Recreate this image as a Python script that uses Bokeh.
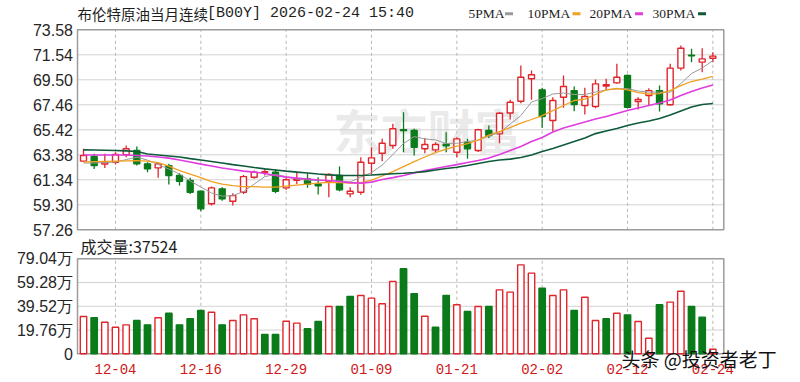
from bokeh.plotting import figure
from bokeh.models import Range1d, ColumnDataSource
from bokeh.embed import file_html
from bokeh.resources import INLINE
from bokeh.core.properties import value

# ---------------- data ----------------
dates = ["12-01", "12-02", "12-03", "12-04", "12-05", "12-08", "12-09", "12-10", "12-11", "12-12",
         "12-15", "12-16", "12-17", "12-18", "12-19", "12-22", "12-23", "12-24", "12-26", "12-29",
         "12-30", "12-31", "01-02", "01-05", "01-06", "01-07", "01-08", "01-09", "01-12", "01-13",
         "01-14", "01-15", "01-16", "01-19", "01-20", "01-21", "01-22", "01-23", "01-26", "01-27",
         "01-28", "01-29", "01-30", "02-02", "02-03", "02-04", "02-05", "02-06", "02-09", "02-10",
         "02-11", "02-12", "02-13", "02-16", "02-17", "02-18", "02-19", "02-20", "02-23", "02-24"]

open_ = [62.86, 63.24, 62.62, 62.77, 63.38, 63.73, 62.64, 62.31, 62.50, 61.69,
         61.28, 60.40, 59.38, 60.60, 59.59, 60.32, 61.55, 61.95, 61.96, 60.68,
         61.30, 61.40, 61.00, 61.22, 61.69, 60.19, 60.32, 62.69, 63.51, 64.14,
         65.42, 65.36, 63.87, 63.78, 64.25, 63.59, 64.40, 63.73, 65.36, 65.09,
         66.79, 67.75, 69.58, 68.68, 66.18, 68.08, 68.62, 67.40, 67.32, 69.00,
         69.25, 69.85, 67.73, 68.22, 68.62, 67.46, 70.45, 71.50, 70.94, 71.26]
high = [63.87, 63.46, 63.46, 63.59, 64.14, 64.05, 62.77, 62.72, 62.64, 61.87,
        61.50, 60.46, 60.79, 60.73, 60.24, 61.74, 62.10, 62.23, 62.23, 61.55,
        61.96, 61.87, 61.55, 61.87, 62.42, 60.73, 63.18, 64.00, 64.68, 65.91,
        66.85, 65.50, 64.76, 64.40, 65.22, 64.81, 64.68, 65.50, 65.77, 66.85,
        67.87, 70.67, 70.26, 68.85, 68.08, 69.85, 68.95, 68.85, 69.52, 69.58,
        70.80, 69.91, 68.08, 68.81, 69.03, 70.80, 72.30, 72.03, 72.08, 71.75]
low = [62.80, 62.23, 62.31, 62.58, 63.18, 62.50, 61.96, 61.50, 60.95, 60.87,
       60.19, 58.77, 59.24, 59.64, 59.24, 60.19, 61.42, 61.69, 60.24, 60.52,
       61.00, 60.70, 60.15, 59.91, 60.40, 59.91, 60.13, 61.82, 62.85, 63.87,
       63.59, 63.32, 63.51, 63.59, 63.59, 63.18, 63.05, 63.60, 64.76, 64.32,
       66.26, 67.59, 67.87, 65.58, 65.30, 67.21, 66.93, 66.67, 67.18, 68.62,
       69.17, 67.18, 67.07, 67.40, 66.91, 67.40, 70.26, 70.94, 70.12, 70.94]
close = [63.32, 62.50, 62.75, 63.40, 63.87, 62.64, 62.23, 62.64, 61.69, 61.22,
         60.32, 58.97, 60.68, 59.78, 60.05, 61.60, 61.96, 62.00, 60.40, 61.34,
         61.38, 60.98, 60.85, 61.77, 60.52, 60.40, 62.77, 63.13, 64.32, 65.50,
         65.35, 64.00, 64.22, 64.22, 64.12, 64.68, 63.87, 65.42, 64.95, 66.77,
         67.67, 69.71, 69.91, 66.50, 67.81, 68.95, 67.48, 68.14, 69.17, 69.10,
         69.71, 67.26, 67.89, 68.62, 67.54, 70.45, 72.08, 71.45, 71.21, 71.43]

ma5 = [62.71, 62.71, 62.75, 62.79, 62.99, 63.18, 62.95, 62.58, 62.22, 61.81,
       61.24, 60.75, 60.26, 60.01, 60.05, 60.38, 60.99, 61.60, 61.77, 61.60,
       61.40, 61.32, 61.28, 61.28, 61.24, 61.16, 61.56, 61.93, 62.54, 63.40,
       64.30, 64.87, 64.67, 64.60, 64.30, 64.32, 64.46, 64.58, 64.91, 65.20,
       65.89, 66.58, 67.69, 67.97, 68.34, 68.42, 68.30, 68.30, 68.50, 68.67,
       68.76, 68.79, 68.58, 68.50, 68.49, 68.49, 69.20, 70.01, 70.46, 71.07]
ma10 = [62.79, 62.83, 62.85, 62.87, 62.89, 62.91, 62.87, 62.75, 62.46, 62.09,
        61.81, 61.52, 61.20, 60.99, 60.87, 60.79, 60.79, 60.75, 60.75, 60.83,
        60.91, 60.99, 61.07, 61.14, 61.11, 61.07, 61.11, 61.32, 61.65, 62.01,
        62.42, 62.83, 63.20, 63.56, 63.85, 64.09, 64.30, 64.58, 64.99, 65.28,
        65.60, 65.97, 66.26, 66.58, 66.99, 67.40, 67.81, 67.93, 68.30, 68.67,
        68.79, 68.67, 68.46, 68.34, 68.38, 68.62, 69.03, 69.36, 69.56, 69.77]
ma20 = [63.36, 63.36, 63.36, 63.36, 63.36, 63.32, 63.28, 63.20, 63.11, 62.95,
        62.79, 62.62, 62.46, 62.30, 62.18, 62.05, 61.97, 61.85, 61.69, 61.56,
        61.48, 61.40, 61.32, 61.28, 61.20, 61.11, 61.07, 61.15, 61.36, 61.52,
        61.69, 61.89, 62.09, 62.26, 62.42, 62.58, 62.75, 62.91, 63.11, 63.40,
        63.73, 64.05, 64.46, 64.79, 65.24, 65.56, 65.81, 66.05, 66.30, 66.50,
        66.75, 66.99, 67.20, 67.40, 67.60, 67.85, 68.22, 68.54, 68.83, 69.07]
ma30 = [63.78, 63.77, 63.75, 63.73, 63.70, 63.65, 63.44, 63.36, 63.28, 63.20,
        63.07, 62.95, 62.83, 62.71, 62.58, 62.46, 62.34, 62.23, 62.14, 62.05,
        61.97, 61.89, 61.81, 61.74, 61.70, 61.69, 61.69, 61.73, 61.78, 61.83,
        61.87, 61.93, 62.01, 62.14, 62.26, 62.36, 62.50, 62.67, 62.83, 62.95,
        63.03, 63.16, 63.36, 63.65, 63.89, 64.18, 64.46, 64.75, 65.11, 65.32,
        65.52, 65.77, 65.97, 66.14, 66.34, 66.62, 66.95, 67.28, 67.48, 67.56]

# volume, in 万 (10k) lots
volume_wan = [31.0, 30.0, 26.3, 22.1, 24.1, 27.7, 24.1, 30.0, 33.8, 24.1,
              29.1, 36.0, 34.6, 24.1, 27.7, 32.4, 29.1, 16.1, 16.1, 27.1,
              25.5, 20.8, 26.9, 39.4, 39.4, 47.7, 48.5, 46.3, 41.6, 60.2,
              70.7, 49.9, 31.3, 22.1, 48.5, 40.8, 35.2, 39.4, 39.4, 53.2,
              51.3, 74.0, 67.1, 54.6, 48.5, 53.2, 36.0, 47.1, 27.7, 29.1,
              33.8, 32.4, 26.9, 13.0, 40.8, 43.0, 52.1, 39.4, 30.5, 3.7524]
# volume bar direction as drawn (1 = red / up, 0 = green / down)
volume_up = [1, 0, 1, 1, 1, 0, 0, 1, 0, 0,
             0, 0, 1, 0, 1, 1, 1, 0, 0, 1,
             1, 0, 0, 1, 0, 0, 1, 1, 1, 1,
             0, 0, 1, 0, 0, 1, 0, 1, 0, 1,
             1, 1, 1, 0, 1, 1, 0, 1, 1, 0,
             1, 0, 1, 1, 0, 1, 1, 0, 0, 1]
last_volume = 37524

price_ticks = [57.26, 59.30, 61.34, 63.38, 65.42, 67.46, 69.50, 71.54, 73.58]
vol_ticks = [0, 19.76, 39.52, 59.28, 79.04]
vol_tick_labels = ["0", "19.76万", "39.52万", "59.28万", "79.04万"]
date_tick_labels = ["12-04", "12-16", "12-29", "01-09", "01-21", "02-02", "02-12", "02-24"]
ma_names = ["5PMA", "10PMA", "20PMA", "30PMA"]
title_cn = "布伦特原油当月连续"
title_rest = "[B00Y] 2026-02-24 15:40"

# ---------------- styling / layout ----------------
RED = "#e0262c"
GREEN = "#0b7a1a"
MA_COLORS = ["#9a9a9a", "#f0a020", "#e03ce0", "#0f5a3a"]
GRID = "#d2d2d2"
VGRID = "#b8b8b8"
BORDER = "#9c9c9c"
TXT = "#1e1e1e"

W, H = 800, 380
STEP = 10.667            # px per candle
X0_PAGE = 83.0           # page x of the first candle
PPX = 200.0 / (price_ticks[-1] - price_ticks[0])   # px per price unit
P_BASE = 229.3           # page y of the lowest price tick
VPX = 95.0 / vol_ticks[-1]                          # px per 万
V_BASE = 353.3           # page y of zero volume


def dx(px):
    return (px - X0_PAGE) / STEP


def py(page_y):
    return price_ticks[0] + (P_BASE - page_y) / PPX


def vy(page_y):
    return (V_BASE - page_y) / VPX


p = figure(width=W, height=H, x_range=Range1d(dx(0), dx(W)), y_range=Range1d(py(H), py(0)),
           output_backend="svg", toolbar_location=None,
           x_axis_location=None, y_axis_location=None, min_border=0)
p.extra_y_ranges = {"vol": Range1d(vy(H), vy(0))}
p.outline_line_color = None
p.background_fill_color = "white"
p.border_fill_color = "white"
p.xgrid.visible = False
p.ygrid.visible = False

n = len(close)
idx = list(range(n))
tick_idx = [dates.index(d) for d in date_tick_labels]
box_l, box_r = dx(77), dx(723.3)
lab_x = dx(72.5)

# watermark
p.text(x=[dx(333)], y=[py(128)], text=["东方财富"], text_font=value("Noto Sans CJK SC"),
       text_font_size="47px", text_font_style="bold", text_color="#d6d6d6", text_alpha=0.5,
       text_baseline="middle", text_align="left")

# ---- price panel frame ----
inner_p = price_ticks[1:-1]
p.segment(x0=[box_l] * len(inner_p), y0=inner_p, x1=[box_r] * len(inner_p), y1=inner_p,
          line_color=GRID, line_width=1)
p.segment(x0=tick_idx, y0=[price_ticks[0]] * len(tick_idx), x1=tick_idx,
          y1=[price_ticks[-1]] * len(tick_idx), line_color=VGRID, line_dash="3 3", line_width=1)
p.quad(left=[box_l], right=[box_r], bottom=[price_ticks[0]], top=[price_ticks[-1]],
       fill_alpha=0, line_color=BORDER, line_width=1.5)
p.text(x=[lab_x] * len(price_ticks), y=price_ticks, text=["%.2f" % t for t in price_ticks],
       text_font=value("Liberation Sans"), text_font_size="16px", text_color="#262626",
       text_align="right", text_baseline="middle")

# candles
up = [c >= o for o, c in zip(open_, close)]
src = ColumnDataSource(dict(x=idx, hi=high, lo=low,
                            top=[max(o, c) for o, c in zip(open_, close)],
                            bot=[min(o, c) for o, c in zip(open_, close)],
                            col=[RED if u else GREEN for u in up],
                            fill=["white" if u else GREEN for u in up]))
p.segment(x0="x", y0="lo", x1="x", y1="hi", line_color="col", line_width=1.3, source=src)
p.vbar(x="x", width=0.56, top="top", bottom="bot", fill_color="fill", line_color="col",
       line_width=1.4, source=src)

# moving averages
for ma, c, w in zip([ma5, ma10, ma20, ma30], MA_COLORS, [1.0, 1.3, 1.6, 1.6]):
    p.line(idx, ma, line_color=c, line_width=w)

# title row + legend
ty = py(13.3)
p.text(x=[dx(77)], y=[ty], text=[title_cn], text_font=value("Noto Sans CJK SC"),
       text_font_size="14.5px", text_color=TXT, text_baseline="middle", text_align="left")
p.text(x=[dx(206.5)], y=[ty], text=[title_rest], text_font=value("Liberation Mono"),
       text_font_size="15px", text_color=TXT, text_baseline="middle", text_align="left")
leg_text_px = [468, 527, 589, 652]
leg_sw_px = [508.5, 576, 638.5, 701.5]
p.text(x=[dx(v) for v in leg_text_px], y=[ty] * 4, text=ma_names, text_font=value("Liberation Serif"),
       text_font_size="13.5px", text_color=TXT, text_baseline="middle", text_align="left")
p.rect(x=[dx(v) for v in leg_sw_px], y=[ty] * 4, width=8, height=3, width_units="screen",
       height_units="screen", fill_color=MA_COLORS, line_color=None)

# ---- volume panel ----
inner_v = vol_ticks[1:-1]
p.segment(x0=[box_l] * len(inner_v), y0=inner_v, x1=[box_r] * len(inner_v), y1=inner_v,
          line_color=GRID, line_width=1, y_range_name="vol")
p.segment(x0=tick_idx, y0=[0] * len(tick_idx), x1=tick_idx, y1=[vol_ticks[-1]] * len(tick_idx),
          line_color=VGRID, line_dash="3 3", line_width=1, y_range_name="vol")
p.quad(left=[box_l], right=[box_r], bottom=[0], top=[vol_ticks[-1]],
       fill_alpha=0, line_color=BORDER, line_width=1.5, y_range_name="vol")
p.text(x=[lab_x] * len(vol_ticks), y=vol_ticks, text=vol_tick_labels,
       text_font=value("Liberation Sans"), text_font_size="16px", text_color="#262626",
       text_align="right", text_baseline="middle", y_range_name="vol")

vsrc = ColumnDataSource(dict(x=idx, v=volume_wan,
                             col=[RED if u else GREEN for u in volume_up],
                             fill=["white" if u else GREEN for u in volume_up]))
p.vbar(x="x", width=0.6, top="v", bottom=0, fill_color="fill", line_color="col",
       line_width=1.4, source=vsrc, y_range_name="vol")

p.text(x=[dx(80)], y=[vy(245)], text=["成交量:%d" % last_volume], text_font=value("Noto Sans CJK SC"),
       text_font_size="16px", text_color=TXT, text_baseline="middle", text_align="left",
       y_range_name="vol")

# date labels
p.text(x=tick_idx, y=[vy(368)] * len(tick_idx), text=date_tick_labels,
       text_font=value("Liberation Mono"), text_font_size="14px", text_color="#d01818",
       text_align="center", text_baseline="middle", y_range_name="vol")

# source watermark
p.text(x=[dx(621)], y=[vy(358)], text=["头条 @投资者老丁"], text_font=value("Noto Sans CJK SC"),
       text_font_size="19px", text_color="#111111", text_baseline="middle", text_align="left",
       y_range_name="vol")

open("out.html", "w").write(file_html(p, INLINE))
